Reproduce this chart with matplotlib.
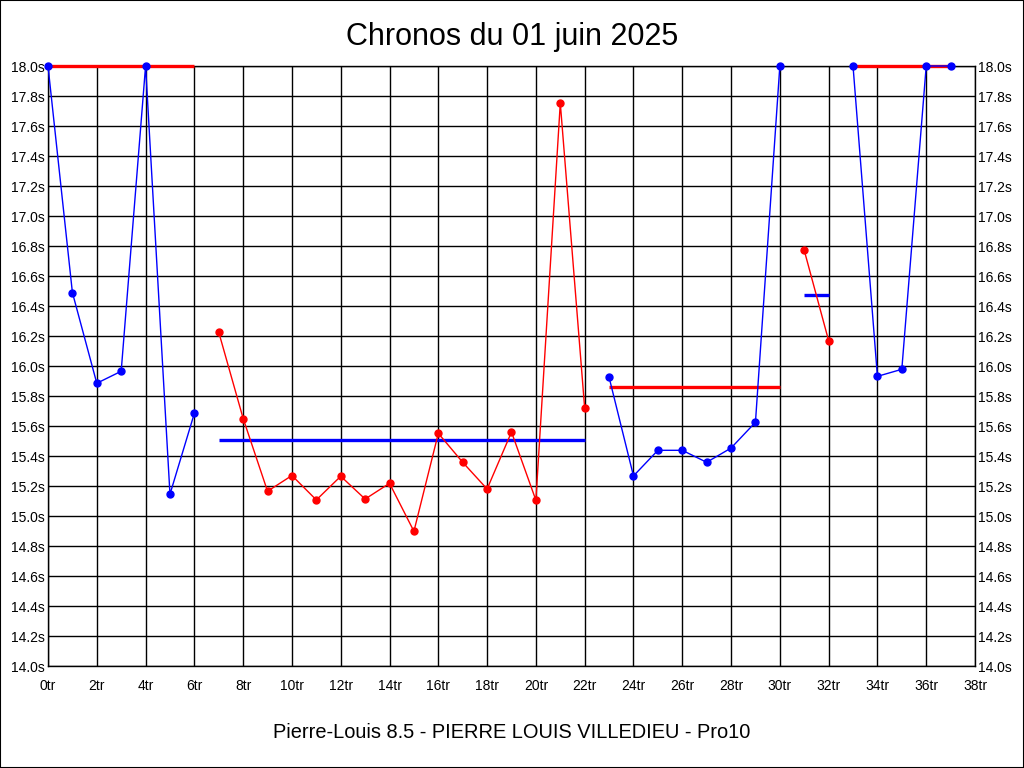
import matplotlib
matplotlib.use("Agg")
import matplotlib.pyplot as plt
from matplotlib.patches import Rectangle
from matplotlib import font_manager
import numpy as np

title = "Chronos du 01 juin 2025"
subtitle = "Pierre-Louis 8.5 - PIERRE LOUIS VILLEDIEU - Pro10"

# segments: (laps, times, avg, line colour, avg colour)
seg1_x = [0, 1, 2, 3, 4, 5, 6]
seg1_y = [18.0, 16.49, 15.885, 15.965, 18.0, 15.145, 15.685]
seg1_avg = 18.0

seg2_x = [7, 8, 9, 10, 11, 12, 13, 14, 15, 16, 17, 18, 19, 20, 21, 22]
seg2_y = [16.225, 15.65, 15.165, 15.27, 15.107, 15.265, 15.113, 15.218,
          14.898, 15.551, 15.358, 15.18, 15.56, 15.105, 17.753, 15.718]
seg2_avg = 15.51

seg3_x = [23, 24, 25, 26, 27, 28, 29, 30]
seg3_y = [15.925, 15.267, 15.438, 15.438, 15.358, 15.453, 15.625, 18.0]
seg3_avg = 15.858

seg4_x = [31, 32]
seg4_y = [16.771, 16.169]
seg4_avg = 16.471

seg5_x = [33, 34, 35, 36, 37]
seg5_y = [18.0, 15.931, 15.978, 18.0, 18.0]
seg5_avg = 18.0

segments = [
    (seg1_x, seg1_y, seg1_avg, "#0000ff", "#ff0000"),
    (seg2_x, seg2_y, seg2_avg, "#ff0000", "#0000ff"),
    (seg3_x, seg3_y, seg3_avg, "#0000ff", "#ff0000"),
    (seg4_x, seg4_y, seg4_avg, "#ff0000", "#0000ff"),
    (seg5_x, seg5_y, seg5_avg, "#0000ff", "#ff0000"),
]

x_ticks = list(range(0, 39, 2))
x_labels = [f"{t}tr" for t in x_ticks]
y_ticks = [round(14.0 + 0.2 * i, 1) for i in range(21)]
y_labels = [f"{v:.1f}s" for v in y_ticks]

plt.rcParams['font.family'] = ['Liberation Sans', 'DejaVu Sans']
names = {f.name for f in font_manager.fontManager.ttflist}
if 'Liberation Sans Narrow' in names:
    tick_family = ['Liberation Sans Narrow', 'Liberation Sans', 'DejaVu Sans']
    tick_size = 11
else:
    tick_family = ['Liberation Sans', 'DejaVu Sans']
    tick_size = 10

fig = plt.figure(figsize=(10.24, 7.68), dpi=100)
fig.patches.append(Rectangle((0, 0), 1, 1, transform=fig.transFigure,
                             fill=False, edgecolor="black", linewidth=1.5))
ax = fig.add_axes([48 / 1024, 1 - 666 / 768, (975 - 48) / 1024, 600 / 768])

for xs, ys, avg, lc, ac in segments:
    ax.plot([xs[0], xs[-1]], [avg, avg], color=ac, linewidth=2.4,
            solid_capstyle="butt", zorder=3, clip_on=False)
    ax.plot(xs, ys, color=lc, linewidth=1.0, marker="o", markersize=5,
            markerfacecolor=lc, markeredgecolor=lc, zorder=4, clip_on=False)

ax.set_xlim(0, 38)
ax.set_ylim(14.0, 18.0)
ax.set_xticks(x_ticks)
ax.set_xticklabels(x_labels)
ax.set_yticks(y_ticks)
ax.set_yticklabels(y_labels)
ax.grid(True, color="black", linewidth=1.0)
ax.set_axisbelow(True)
ax.tick_params(axis="both", length=0)
ax.tick_params(axis="x", pad=9)
ax.tick_params(axis="y", pad=2, labelright=True, right=True)
for lab in ax.get_xticklabels() + ax.get_yticklabels():
    lab.set_family(tick_family)
    lab.set_fontsize(tick_size)
for t in ax.yaxis.get_major_ticks():
    t.label2.set_family(tick_family)
    t.label2.set_fontsize(tick_size)
for s in ax.spines.values():
    s.set_color("black")
    s.set_linewidth(1.0)

fig.text(0.5, 1 - 37 / 768, title, ha="center", va="center", fontsize=22)
fig.text(0.5, 1 - 732 / 768, subtitle, ha="center", va="center", fontsize=14.4)

fig.savefig("out.png", dpi=100)
